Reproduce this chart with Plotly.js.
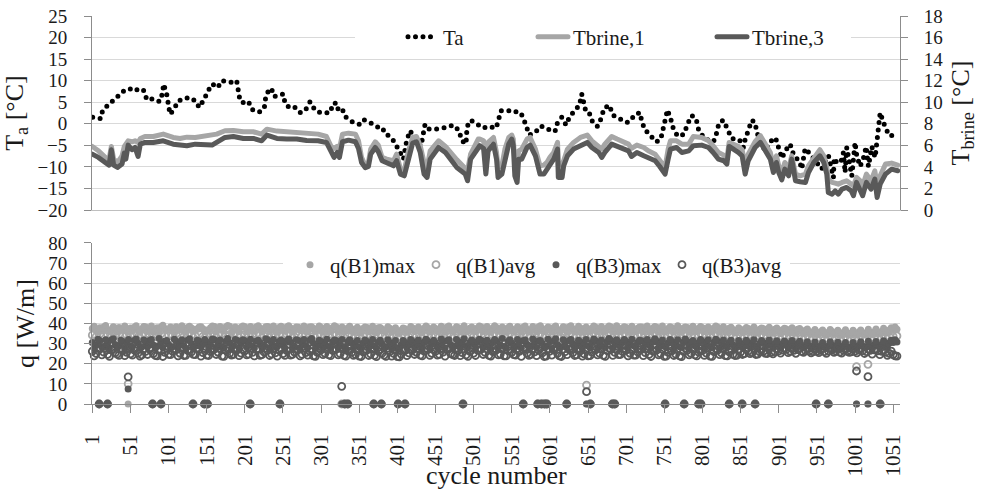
<!DOCTYPE html>
<html><head><meta charset="utf-8">
<script src="https://cdn.plot.ly/plotly-3.0.1.min.js"></script>
<style>
html,body{margin:0;padding:0;background:#fff;}
#chart{width:986px;height:489px;}
.js-line, .legendlines { stroke-linecap: round; stroke-linejoin: round; }
</style></head><body><div id="chart"></div><script>
// ---- Ambient temperature Ta [°C] (left axis, top panel)
const taCycles = [1.5,12,14.6,22,28.6,37.3,43.9,49.6,54.8,61.4,67.9,72.3,76.7,83.2,89.8,93,94.5,98.5,100.7,102.9,
108.1,113.8,122.6,131.3,137.9,140.9,147.5,152.3,158.4,165.4,170.6,177.2,183.7,190.3,192.5,194.7,199,205.6,210,215.2,
220.9,226.6,228.3,233.1,236.2,239.7,245,251.5,253.7,260.3,266.8,273.4,279.9,286.5,293,299.6,306.1,312.7,315.8,319.3,
321.4,328,332.4,339,345.5,352,357.3,365.2,373.9,379.6,384,389.2,395.8,403.6,408.9,413.2,417.6,424.2,432,437.3,
442.5,452.6,463.5,474.4,481.9,485.3,491,491.9,494.1,498.5,505,513.8,520.3,530.4,533.4,536.5,546.6,555.3,557.5,561.9,
565.4,569.7,574.1,581.5,589.4,596.8,607.7,610.8,616.5,622.2,626.5,633.1,639.7,642.7,645.8,648.4,653.6,657.1,663.3,668.1,
672,679,683.4,692.1,701.7,705.2,712.7,719.2,721.4,725.8,733.2,740.2,746.3,748.9,751.1,755.1,759.4,762.9,768.6,776.9,
781.3,787,792.6,795.7,803.1,815.4,818.9,822.8,828.5,835,839.4,849.5,854.7,856.9,861.3,865.6,870,872.2,883.1,894,
897.5,900.6,905,910.7,915.9,921.2,928.1,931.2,935.6,942.1,957.4,966.2,970.5,972.7,973.6,977.1,982.4,985.8,988,990.2,
994.6,996.8,999,1001.1,1003.3,1007.7,1012,1015.6,1018.6,1020.8,1023,1027.4,1029.5,1030.5,1032,1034,1038.3,1042.7,1047.9,1053.6,1056.6];
const taValues = [1.5,1.2,3.2,4.3,5.3,6.9,7.9,8.0,8.4,7.7,7.9,5.7,6.0,5.3,5.2,7.1,9.2,6.9,4.6,2.2,
3.4,5.3,6.0,6.0,4.9,3.8,5.6,7.5,9.2,8.4,10.0,9.7,9.6,10.0,7.7,5.3,4.9,5.2,3.4,2.8,
2.8,3.8,6.1,8.2,8.0,6.3,6.6,6.9,4.7,3.6,3.8,2.6,3.0,5.1,3.2,2.6,2.5,2.6,4.2,4.9,
3.4,3.8,1.7,0.7,0.2,-0.2,0.9,0.2,-0.5,-1.6,-1.4,-2.8,-3.9,-6.3,-8.2,-3.9,-1.6,-3.6,-5.1,-0.1,
-1.2,-1.2,-0.9,-0.3,-1.6,-3.9,-4.7,-2.0,0.5,0.7,-0.1,-1.0,-0.6,-1.0,0.7,3.0,3.0,3.0,2.6,2.6,
1.7,-0.5,-2.6,-2.0,-0.5,-1.2,-1.8,0.2,1.5,-0.3,1.5,3.0,4.3,6.9,4.6,2.6,2.2,0.3,-0.6,1.2,
3.6,4.3,2.0,1.1,0.3,0.5,2.2,2.6,0.5,-1.4,-2.9,-4.2,-3.6,-1.4,0.9,3.2,1.1,-1.2,-2.9,-2.4,
-0.1,1.9,1.2,-1.2,-3.4,-4.2,-2.6,0.3,0.8,-1.4,-3.4,-3.7,-5.5,-3.7,-1.4,0.8,0.3,-2.0,-6.3,-3.2,
-3.6,-5.9,-8.0,-6.0,-4.7,-7.6,-8.6,-10.5,-5.7,-7.0,-10.5,-7.4,-10.5,-12.5,-8.0,-9.0,-9.0,-6.7,-11.3,-5.5,
-9.9,-12.1,-8.2,-4.3,-7.4,-9.9,-8.0,-5.3,-9.9,-7.8,-5.3,-7.8,-3.9,-1.6,0.7,2.6,0.3,-1.6,-2.9,-2.0,-1.6];

// ---- Brine temperatures [°C] (right axis, top panel)
const brineCycles = [1,9,18,23,26,29,34,40,43,45,
48,53,57,61,64,70,81,94,107,116,
125,136,147,158,164,175,186,199,212,223,
230,243,256,269,282,297,308,314,318,322,
325,329,337,346,350,354,359,363,366,372,
376,381,387,396,400,405,410,415,421,426,
431,436,440,444,455,464,479,490,493,497,
507,509,514,517,520,527,531,533,538,542,
547,551,553,555,558,560,564,571,575,582,
588,593,597,601,606,611,612,617,619,624,
632,641,645,650,656,665,669,673,682,689,
697,704,708,715,724,730,739,745,752,756,
759,767,774,783,789,800,809,815,822,829,
833,836,842,848,853,857,861,870,877,883,
890,894,898,901,905,909,914,918,923,929,
936,940,947,955,960,964,966,971,975,979,
984,990,996,999,1003,1008,1011,1016,1022,1027,
1030,1034,1041,1049,1057];
const tBrine1 = [5.90,5.49,4.88,4.72,5.90,4.72,4.41,5.03,5.90,6.11,
6.42,6.33,6.42,6.27,6.64,6.82,6.82,7.04,6.73,6.64,
6.76,6.73,6.82,6.89,7.04,7.35,7.38,7.26,7.26,7.04,
7.50,7.32,7.26,7.20,7.13,7.04,6.82,5.90,5.71,5.90,
5.65,7.04,7.13,7.04,6.42,4.88,4.10,4.41,5.65,6.33,
6.02,4.88,4.72,4.57,5.18,3.79,3.64,5.34,6.73,6.82,
5.96,4.41,3.95,5.49,6.42,5.90,4.66,3.79,3.64,5.18,
6.58,6.58,6.42,4.72,6.27,6.73,5.34,3.95,4.10,5.65,
6.73,6.95,6.58,4.41,4.10,5.49,5.65,6.58,6.73,5.65,
4.10,4.16,4.41,4.88,5.34,6.27,4.10,4.26,4.57,5.65,
6.27,6.73,6.82,6.95,6.42,5.96,5.65,6.11,6.82,6.58,
6.27,6.11,5.71,6.02,5.80,5.49,5.18,4.57,3.95,5.65,
6.42,6.42,6.11,6.11,6.82,6.73,6.42,5.96,5.34,5.09,
4.72,6.27,6.11,5.90,5.59,4.10,5.18,6.33,6.89,6.11,
5.34,4.10,5.03,4.10,3.48,4.41,3.79,5.03,3.33,3.17,
3.33,4.10,4.88,5.59,5.03,3.95,2.86,2.56,2.49,2.40,
2.56,2.71,2.40,2.25,3.02,2.71,2.25,3.33,2.71,3.64,
2.25,3.17,4.26,4.35,4.16];
const tBrine3 = [5.18,4.88,4.41,4.16,5.59,4.16,3.95,4.26,5.28,4.72,
6.02,5.59,5.80,4.97,6.11,6.27,6.27,6.42,6.11,6.08,
5.96,6.11,6.11,6.02,6.27,6.73,6.82,6.64,6.64,6.42,
6.95,6.64,6.58,6.58,6.45,6.42,6.27,5.28,4.88,5.34,
4.88,6.33,6.48,6.33,5.71,4.41,3.92,4.04,5.18,5.80,
5.40,4.57,4.35,4.10,4.57,3.33,3.17,4.57,6.21,6.33,
5.34,3.33,3.02,4.72,5.80,5.34,3.95,3.33,2.71,4.72,
5.90,5.96,5.71,3.33,5.49,6.11,4.72,3.02,3.33,4.72,
6.11,6.58,5.96,3.17,2.56,4.72,4.72,5.80,6.02,5.03,
3.33,3.33,3.79,4.10,4.72,5.65,3.02,3.02,4.10,5.03,
5.65,5.96,6.11,6.27,5.80,5.34,4.88,5.34,6.11,5.90,
5.65,5.49,4.97,5.34,5.03,4.88,4.57,4.04,3.33,4.72,
5.65,5.80,5.34,5.49,5.96,6.02,5.80,5.34,4.72,4.57,
4.26,5.90,5.65,5.34,5.03,3.33,4.57,5.80,6.27,5.49,
4.72,3.48,4.41,3.48,2.80,3.79,3.17,4.72,2.71,2.62,
2.56,3.48,4.41,5.03,4.41,3.33,1.63,1.47,1.78,1.47,
1.94,2.09,1.78,1.32,2.56,1.78,1.32,2.56,1.94,2.86,
1.16,2.40,3.33,3.79,3.64];

// ---- Heat extraction rates q [W/m] (bottom panel)
// pass A: cycles 1, 6, 11, ... ; pass B: cycles 3.5, 8.5, 13.5, ...
const bandCyclesA = []; for (let c = 1; c <= 1056; c += 5) bandCyclesA.push(c);
const bandCyclesB = []; for (let c = 3.5; c <= 1054; c += 5) bandCyclesB.push(c);
const qB1maxA = [37.5,36.8,37.9,38.2,37.1,36.6,37.8,38.0,37.3,36.9, 37.7,38.1,36.8,37.4,38.3,37.0,36.7,37.9,38.2,37.5,
36.9,37.6,38.4,37.2,36.8,38.0,37.7,37.1,38.3,37.4, 36.8,37.9,38.5,37.3,37.0,38.2,38.6,37.5,36.9,38.1,
38.4,37.6,37.0,38.3,37.8,37.2,38.5,37.9,37.1,38.0, 37.4,38.2,37.7,36.9,38.1,37.5,37.0,38.3,37.6,37.2,
38.0,37.3,36.8,37.9,38.2,37.1,36.6,37.8,37.4,36.9, 36.2,37.5,38.0,37.2,36.7,37.9,37.3,36.5,37.6,36.8,
35.8,36.6,37.4,36.9,37.8,37.1,36.4,37.6,37.9,37.0, 37.5,36.8,37.7,38.1,37.2,36.6,37.9,37.3,36.7,37.6,
37.0,37.8,38.2,37.4,36.9,37.7,38.0,37.1,36.8,37.9, 37.3,36.7,37.8,38.1,37.2,36.9,37.6,38.3,37.5,36.8,
37.7,38.0,37.1,36.6,37.9,38.2,37.4,36.9,37.8,37.2, 36.8,37.6,38.1,37.3,36.7,37.9,38.3,37.5,37.0,37.7,
38.0,37.2,36.8,37.6,38.2,37.4,36.9,37.8,38.1,37.3, 36.7,37.5,37.9,37.1,36.6,37.8,38.0,37.2,36.9,37.6,
37.9,37.3,36.8,37.7,38.1,37.4,36.7,37.6,37.0,36.5, 37.2,36.8,37.5,36.9,36.3,37.1,37.4,36.6,36.9,37.2,
36.5,36.9,37.3,36.4,36.8,37.1,36.2,36.6,36.0,35.8, 35.5,35.9,35.2,35.6,36.0,35.3,35.0,35.7,35.4,35.1,
35.3,35.8,35.5,35.0,35.6,35.9,35.7,36.2,36.5,36.8, 37.0,37.2];
const qB1maxB = [38.6,35.9,36.4,39.0,36.1,38.4,35.8,37.0,38.8,35.7, 36.3,38.9,35.6,38.5,36.0,38.7,36.2,35.9,39.1,36.4,
38.3,35.8,36.6,38.9,35.7,38.6,36.1,37.0,38.4,35.9, 36.2,38.8,35.8,38.5,36.4,39.0,35.7,38.2,36.0,38.7,
35.9,38.5,36.3,38.9,35.8,38.4,36.0,38.8,35.7,38.6, 36.1,38.9,35.8,38.3,36.5,38.7,35.9,38.4,36.2,38.8,
35.7,38.5,36.0,38.9,35.9,38.2,36.3,38.6,35.6,38.1, 35.4,38.3,35.9,38.6,35.5,38.0,36.1,38.4,35.6,37.9,
35.2,37.8,35.7,38.5,36.0,38.3,35.5,38.7,35.8,38.2, 36.0,38.6,35.7,38.8,36.1,38.4,35.8,38.9,36.2,38.3,
35.9,38.7,36.0,38.5,35.6,38.9,36.3,38.2,35.8,38.6, 36.1,38.4,35.7,38.8,36.0,38.5,35.9,38.9,36.2,38.3,
35.8,38.7,36.1,38.4,35.6,38.9,36.0,38.6,35.7,38.2, 36.3,38.8,35.9,38.5,36.1,38.7,35.8,38.9,36.0,38.4,
35.7,38.6,36.2,38.3,35.9,38.8,36.0,38.5,35.6,38.7, 36.1,38.4,35.8,38.9,36.0,38.2,35.7,38.6,36.2,38.5,
35.9,38.3,36.0,38.7,35.6,38.4,35.8,38.1,35.5,37.9, 35.4,38.0,35.7,38.3,35.3,37.8,35.6,38.1,35.2,37.7,
35.0,37.6,35.4,37.9,35.1,37.5,34.9,37.3,34.8,37.0, 34.5,36.8,34.3,37.0,34.6,36.7,34.2,36.9,34.4,36.6,
34.3,36.8,34.6,37.1,34.5,37.3,34.9,37.6,35.3,37.9, 38.2];
const qB1avgA = [34.2,33.5,34.8,33.9,34.5,33.2,34.0,34.6,33.7,34.3, 33.8,34.5,33.4,34.1,34.7,33.6,33.1,34.4,34.8,33.9,
34.3,33.7,34.9,34.0,33.5,34.6,34.2,33.8,34.7,33.6, 34.1,34.8,33.9,34.4,35.0,33.7,34.5,34.9,34.0,33.8,
34.6,34.2,33.6,34.8,34.3,33.9,34.7,34.1,33.5,34.4, 33.9,34.6,34.2,33.4,34.5,33.8,34.1,34.7,33.6,34.0,
34.4,33.7,33.2,34.3,34.6,33.5,33.0,34.2,33.8,33.3, 32.8,33.9,34.3,33.6,33.1,34.2,33.7,33.0,34.0,33.4,
32.5,33.2,33.9,33.4,34.1,33.6,33.0,34.0,34.3,33.5, 33.9,33.3,34.1,34.4,33.6,33.1,34.2,33.7,33.2,34.0,
33.5,34.2,34.5,33.8,33.3,34.1,34.4,33.6,33.2,34.3, 33.7,33.1,34.2,34.5,33.6,33.3,34.0,34.6,33.9,33.2,
34.1,34.4,33.5,33.0,34.3,34.6,33.8,33.3,34.2,33.6, 33.2,34.0,34.5,33.7,33.1,34.3,34.6,33.9,33.4,34.1,
34.4,33.6,33.2,34.0,34.5,33.8,33.3,34.2,34.4,33.7, 33.1,33.9,34.3,33.5,33.0,34.2,34.4,33.6,33.3,34.0,
34.3,33.7,33.2,34.1,34.4,33.8,33.1,34.0,33.4,32.9, 33.6,33.2,33.9,33.3,32.8,33.5,33.8,33.0,33.3,33.6,
32.9,33.3,33.7,32.8,33.2,33.5,32.6,33.0,32.5,32.3, 32.1,32.5,31.9,32.3,32.6,32.0,31.7,32.4,32.1,31.8,
32.0,32.5,32.2,31.7,32.3,32.6,32.4,32.8,33.1,33.4, 33.6,33.8];
const qB3maxA = [30.5,29.2,31.4,28.6,30.1,31.8,29.5,28.9,31.1,30.3, 29.0,31.6,30.2,28.5,30.9,31.5,29.3,28.8,30.6,31.2,
29.7,28.4,31.0,30.4,29.1,31.7,30.0,28.7,31.3,29.6, 30.8,29.4,31.9,30.2,28.6,31.1,30.5,29.0,31.6,30.1,
31.4,29.8,28.9,31.2,30.6,29.2,31.8,30.3,28.8,31.0, 29.5,31.3,30.7,28.7,31.5,29.9,29.1,31.7,30.2,28.9,
31.1,30.0,28.6,30.8,31.4,29.3,28.5,30.9,30.4,29.0, 28.3,30.2,31.0,29.6,28.8,30.7,29.9,28.4,30.5,29.2,
28.0,29.4,30.6,29.8,31.0,30.1,28.9,30.8,31.2,29.7, 30.4,29.1,30.9,31.3,29.5,28.7,31.0,30.2,28.9,30.6,
29.8,31.1,31.5,30.0,28.8,30.7,31.2,29.4,28.6,31.0, 30.3,28.9,30.8,31.4,29.7,29.0,30.5,31.3,30.1,28.7,
30.9,31.2,29.6,28.5,30.7,31.4,30.0,29.1,30.8,29.5, 28.8,30.6,31.3,29.9,28.6,31.0,31.5,30.2,29.3,30.7,
31.1,29.7,28.9,30.5,31.4,30.0,29.2,30.9,31.2,29.8, 28.7,30.3,31.0,29.5,28.5,30.8,31.1,29.6,28.9,30.4,
31.0,29.9,28.6,30.7,31.2,30.1,28.8,30.5,29.4,28.9, 30.2,29.3,30.6,29.7,28.7,30.0,30.4,29.2,29.6,30.1,
29.4,29.9,30.3,29.0,29.5,30.0,28.8,29.3,28.9,28.6, 28.5,29.0,28.3,28.8,29.2,28.6,28.2,28.9,28.5,28.3,
28.6,29.1,28.8,28.4,29.0,29.3,29.1,29.6,30.0,30.3, 30.5,30.8];
const qB3maxB = [27.6,32.2,28.3,31.9,27.8,32.4,28.1,31.7,27.5,32.0, 28.2,32.3,27.7,31.8,28.4,32.1,27.9,32.5,28.0,31.6,
27.8,32.2,28.3,31.9,27.6,32.4,28.1,31.7,28.5,32.0, 27.9,32.3,28.2,31.8,27.7,32.5,28.0,32.1,27.6,31.9,
28.3,32.2,27.8,31.7,28.1,32.4,27.5,32.0,28.4,31.8, 27.7,32.3,28.2,31.9,27.9,32.1,28.0,32.5,27.6,31.7,
28.1,32.2,27.8,31.8,28.3,32.0,27.5,31.9,28.0,31.6, 27.4,31.8,28.0,32.1,27.6,31.7,28.2,31.9,27.5,31.5,
27.2,31.6,27.8,32.0,28.1,31.8,27.6,32.2,27.9,31.7, 28.0,32.3,27.7,31.9,28.2,32.1,27.8,32.4,28.1,31.8,
27.9,32.2,28.3,31.7,27.6,32.0,28.0,32.5,27.8,31.9, 28.2,32.1,27.7,31.8,28.4,32.3,27.9,31.6,28.0,32.2,
27.6,32.4,28.1,31.9,27.8,32.0,28.3,31.7,27.5,32.1, 28.0,32.3,27.8,31.8,28.2,32.5,27.7,31.9,28.1,32.0,
27.9,32.2,28.3,31.7,27.6,32.1,28.0,32.4,27.8,31.8, 28.1,32.0,27.7,31.9,28.3,32.3,27.9,31.6,28.2,32.1,
27.8,31.9,28.0,32.2,27.6,31.8,28.1,31.7,27.7,31.5, 27.9,31.7,28.2,31.9,27.6,31.5,28.0,31.8,27.8,31.4,
27.7,31.3,28.0,31.6,27.5,31.2,27.8,30.9,27.4,30.8, 27.3,30.6,27.6,30.9,27.2,30.7,27.5,30.5,27.4,30.6,
27.6,30.9,27.8,31.2,27.5,31.0,27.9,31.4,28.2,31.7, 31.9];
const qB3avgA = [26.2,25.1,27.4,25.8,24.6,26.9,25.4,24.2,26.5,25.7, 24.9,26.8,25.3,24.4,26.1,27.2,25.0,23.9,26.4,25.6,
24.7,26.3,27.0,25.2,24.1,26.6,25.9,24.5,27.1,25.5, 24.3,26.0,27.3,25.7,23.8,26.7,25.1,24.6,26.9,25.3,
26.4,24.8,25.6,27.1,24.2,25.9,26.6,24.9,25.4,26.8, 25.0,26.5,24.3,25.8,27.0,24.7,25.5,26.3,23.9,25.7,
26.9,25.2,24.4,26.6,27.2,25.0,24.1,26.4,25.6,24.6, 23.8,25.9,26.7,24.9,24.2,26.2,25.3,23.7,26.0,25.1,
23.5,24.8,26.5,25.4,26.9,25.7,24.3,26.3,27.0,25.2, 26.1,24.6,25.8,27.1,25.0,24.1,26.6,25.5,24.4,26.2,
25.3,26.8,27.2,25.6,24.2,26.0,26.9,24.8,23.9,26.5, 25.7,24.3,26.1,27.0,25.2,24.6,25.9,26.7,25.4,23.8,
26.3,26.9,25.1,23.6,26.0,27.1,25.5,24.4,26.4,24.9, 23.9,25.8,26.9,25.3,24.2,26.5,27.0,25.6,24.5,26.1,
26.8,25.2,24.3,25.9,27.1,25.5,24.6,26.3,26.7,25.0, 23.7,25.6,26.4,24.8,23.9,26.1,26.6,25.1,24.4,25.8,
26.5,25.3,23.8,26.0,26.8,25.4,24.0,25.9,24.7,24.2, 25.8,25.0,26.3,25.5,24.6,25.9,26.2,25.1,25.6,26.0,
26.4,26.8,27.1,26.2,26.6,27.0,26.1,26.5,26.3,26.0, 26.2,26.7,26.0,26.4,26.9,26.3,25.8,26.6,26.2,25.9,
26.3,26.8,26.5,26.0,26.6,26.9,26.4,26.2,25.6,25.1, 24.5,23.8];
const qB3avgB = [23.9,27.6,24.4,27.9,23.7,27.3,24.8,27.8,24.0,27.5, 24.3,27.7,23.8,27.4,24.6,27.9,24.1,27.2,23.6,27.8,
24.5,27.5,23.9,27.8,24.2,27.3,24.7,27.9,23.8,27.6, 24.1,27.4,24.6,27.8,23.7,27.5,24.3,27.9,24.0,27.2,
24.4,27.7,23.9,27.5,24.5,27.8,24.1,27.3,23.8,27.6, 24.2,27.9,24.6,27.4,23.9,27.7,24.3,27.5,23.7,27.8,
24.5,27.3,24.0,27.6,24.4,27.9,23.8,27.5,24.2,27.4, 23.6,27.2,24.1,27.5,23.5,27.1,24.3,27.6,23.8,27.3,
23.4,27.0,24.0,27.4,24.6,27.8,23.9,27.6,24.2,27.2, 24.3,27.7,23.8,27.5,24.5,27.9,24.0,27.3,23.7,27.6,
24.1,27.8,24.6,27.4,23.8,27.6,24.4,27.9,23.9,27.3, 24.5,27.5,23.7,27.8,24.2,27.4,24.0,27.7,23.6,27.5,
24.3,27.9,23.9,27.2,24.5,27.6,24.1,27.8,23.8,27.4, 24.0,27.7,24.4,27.5,23.7,27.8,24.2,27.3,24.6,27.6,
23.9,27.4,24.3,27.8,24.0,27.5,23.6,27.9,24.4,27.2, 23.8,27.6,24.1,27.3,23.5,27.7,24.4,27.5,23.9,27.4,
24.2,27.8,23.7,27.5,24.5,27.6,23.9,27.3,24.1,27.0, 24.6,27.3,25.0,27.6,24.8,27.4,25.2,27.7,24.9,27.5,
25.3,27.8,25.5,28.0,25.2,27.7,25.6,27.9,25.4,27.6, 25.5,27.8,25.2,27.6,25.7,27.9,25.3,27.5,25.6,27.7,
25.4,27.6,25.1,27.3,24.8,27.0,24.5,26.7,24.2,26.3, 23.9];
// stopped / disturbed cycles
const eventCycles = [10,21,48,80,91,133,148,152,208,247,328,332,336,370,380,402,411,487,566,585,
590,594,597,623,649,654,683,686,752,777,796,799,836,853,870,950,966,1003,1018,1034];
const evB1max = [0,0,0,0,0,0,0,0,0,0,0,0,0,0,0,0,0,0,0,0, 0,0,0,0,0,0,0,0,0,0,0,0,0,0,0,0,0,0,0,0];
const evB1avg = [0,0,10,0,0,0,0,0,0,0,0,0,0,0,0,0,0,0,0,0, 0,0,0,0,9.4,0,0,0,0,0,0,0,0,0,0,0,0,18.6,19.7,0];
const evB3max = [0,0,7.5,0,0,0,0,0,0,0,0,0,0,0,0,0,0,0,0,0, 0,0,0,0,0,0,0,0,0,0,0,0,0,0,0,0,0,0,0,0];
const evB3avg = [0,0,13.5,0,0,0,0,0,0,0,8.8,0,0,0,0,0,0,0,0,0, 0,0,0,0,6.1,0,0,0,0,0,0,0,0,0,0,0,0,16.4,13.6,0];

const tickCycles = [1,51,101,151,201,251,301,351,401,451,501,551,601,651,701,751,801,851,901,951,1001,1051];
const tickLabels = ['1','51','101','151','201','251','301','351','401','451','501','551','601','651','701','751','801','851','901','951','1001','1051'];

const LIGHT = '#a6a6a6', DARK = '#595959', AXIS = '#8c8c8c', GRID = '#d9d9d9', TXT = '#1a1a1a';
const FONT = '"Liberation Serif", "Times New Roman", serif';

const qx = (a, b) => bandCyclesA.concat(b ? bandCyclesB : [], eventCycles);
const traces = [
  {x: taCycles, y: taValues, name: 'Ta', xaxis: 'x', yaxis: 'y', mode: 'lines',
   line: {color: '#000', width: 5, dash: '0px,7.5px'}, legend: 'legend'},
  {x: brineCycles, y: tBrine1, name: 'Tbrine,1', xaxis: 'x', yaxis: 'y2', mode: 'lines',
   line: {color: LIGHT, width: 5}, legend: 'legend2'},
  {x: brineCycles, y: tBrine3, name: 'Tbrine,3', xaxis: 'x', yaxis: 'y2', mode: 'lines',
   line: {color: DARK, width: 5}, legend: 'legend3'},
  {x: qx(qB1maxA, qB1maxB), y: qB1maxA.concat(qB1maxB, evB1max), name: 'q(B1)max', xaxis: 'x2', yaxis: 'y3',
   mode: 'markers', cliponaxis: false, marker: {symbol: 'circle', size: 7, color: LIGHT}, legend: 'legend4'},
  {x: qx(qB1avgA, null), y: qB1avgA.concat(evB1avg), name: 'q(B1)avg', xaxis: 'x2', yaxis: 'y3',
   mode: 'markers', cliponaxis: false, marker: {symbol: 'circle-open', size: 7, color: LIGHT, line: {width: 1.8, color: LIGHT}}, legend: 'legend5'},
  {x: qx(qB3maxA, qB3maxB), y: qB3maxA.concat(qB3maxB, evB3max), name: 'q(B3)max', xaxis: 'x2', yaxis: 'y3',
   mode: 'markers', cliponaxis: false, marker: {symbol: 'circle', size: 7, color: DARK}, legend: 'legend6'},
  {x: qx(qB3avgA, qB3avgB), y: qB3avgA.concat(qB3avgB, evB3avg), name: 'q(B3)avg', xaxis: 'x2', yaxis: 'y3',
   mode: 'markers', cliponaxis: false, marker: {symbol: 'circle-open', size: 7, color: DARK, line: {width: 1.8, color: DARK}}, legend: 'legend7'}
];

function leg(xpx, ypx) {
  return {x: (xpx - 92) / 808, y: (404 - ypx) / 388, xanchor: 'left', yanchor: 'middle',
    orientation: 'h', bgcolor: 'rgba(0,0,0,0)', borderwidth: 0,
    font: {family: FONT, size: 21, color: TXT}};
}

const yCommon = {ticks: 'outside', ticklen: 7, tickcolor: AXIS, showline: true, linecolor: AXIS, linewidth: 1,
  zeroline: false, tickfont: {family: FONT, size: 19, color: TXT}};

const layout = {
  width: 986, height: 489,
  margin: {l: 92, r: 86, t: 16, b: 85},
  paper_bgcolor: '#fff', plot_bgcolor: '#fff',
  font: {family: FONT, size: 21, color: TXT},
  showlegend: true,
  xaxis: {domain: [0, 1], anchor: 'y', range: [0.6, 1060], showticklabels: false, ticks: '', showgrid: false,
    zeroline: false, showline: true, linecolor: '#bfbfbf', linewidth: 1},
  yaxis: Object.assign({}, yCommon, {domain: [0.5, 1], anchor: 'x', range: [-20, 25], tick0: 0, dtick: 5,
    showgrid: true, gridcolor: GRID, gridwidth: 1, ticklabelstandoff: 13,
    title: {text: 'T<sub>a</sub> [°C]', font: {family: FONT, size: 26, color: TXT}, standoff: 6}}),
  yaxis2: Object.assign({}, yCommon, {overlaying: 'y', side: 'right', anchor: 'x', range: [0, 18], tick0: 0, dtick: 2,
    showgrid: false, ticklabelstandoff: 12,
    title: {text: 'T<sub>brine</sub> [°C]', font: {family: FONT, size: 26, color: TXT}, standoff: 8}}),
  xaxis2: {domain: [0, 1], anchor: 'y3', range: [0.6, 1060], tickmode: 'array', tickvals: tickCycles, ticktext: tickLabels,
    tickangle: -90, ticks: 'outside', ticklen: 8, tickcolor: AXIS, showline: true, linecolor: AXIS, linewidth: 1,
    showgrid: false, zeroline: false, ticklabelstandoff: 13, tickfont: {family: FONT, size: 21, color: TXT}},
  yaxis3: Object.assign({}, yCommon, {domain: [0, 0.415], anchor: 'x2', range: [0, 80], tick0: 0, dtick: 10,
    showgrid: true, gridcolor: GRID, gridwidth: 1, ticklabelstandoff: 13,
    title: {text: 'q [W/m]', font: {family: FONT, size: 26, color: TXT}, standoff: 6}}),
  annotations: [
    {text: 'cycle number', xref: 'paper', yref: 'paper', x: 0.5, y: (404 - 475) / 388, xanchor: 'center', yanchor: 'middle',
     showarrow: false, font: {family: FONT, size: 26, color: TXT}}
  ],
  legend: leg(403, 37), legend2: leg(533, 37), legend3: leg(712, 37),
  legend4: leg(290, 265), legend5: leg(416, 265), legend6: leg(536, 265), legend7: leg(662, 265),
  shapes: [
    {type: 'rect', xref: 'paper', yref: 'paper', x0: (355 - 92) / 808, x1: (851 - 92) / 808,
     y0: (404 - 45) / 388, y1: (404 - 30) / 388, fillcolor: '#fff', line: {width: 0}, layer: 'above'},
    {type: 'rect', xref: 'paper', yref: 'paper', x0: (283 - 92) / 808, x1: (790 - 92) / 808,
     y0: (404 - 271) / 388, y1: (404 - 257) / 388, fillcolor: '#fff', line: {width: 0}, layer: 'above'}
  ]
};

Plotly.newPlot('chart', traces, layout, {staticPlot: true, displayModeBar: false});
</script></body></html>
